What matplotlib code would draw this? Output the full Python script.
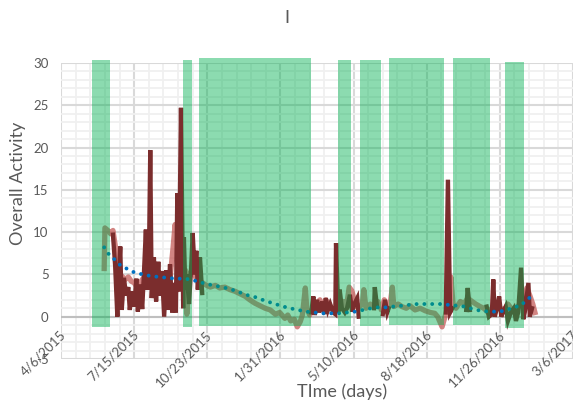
import numpy as np
import pandas as pd
import matplotlib
matplotlib.use("Agg")
import matplotlib.pyplot as plt
from matplotlib.ticker import MultipleLocator
from matplotlib.transforms import offset_copy

plt.rcParams["font.family"] = ["Lato", "DejaVu Sans"]
plt.rcParams["axes.unicode_minus"] = False

START = pd.Timestamp("2015-04-06")   # day 0 of the time axis

# raw activity (dark red), NaN = no data
raw_day = [71, 74, 77, 78, 81, 83, 86, 89, 92, 94, 97, 100, 103, 105, 108, 111, 113,
           116, 118, 120, 122, 124, 127, 130, 133, 135, 138, 141, 144, 146, 149, 152,
           155, 157, 159, 161, 164, 167, 168, 170, 172, 175, 178, 180, 183, 185, 187,
           190, 193, 200,
           342, 345, 347, 350, 353, 357, 360, 362, 365, 368, 372, 375, 376, 379, 381,
           384, 388, 391, 395, 398, 401, 405, 407, 415,
           428, 429, 432, 436, 440, 443, 446, 448, 470,
           526, 529, 532, 535, 545, 554, 556, 559, 570,
           582, 585, 589, 591, 593, 596, 599, 602, 604, 608, 611, 615, 619, 622, 625,
           629, 632, 634, 639, 641, 644]
raw_val = [9.7, 6.0, 0.0, 3.0, 8.3, 0.8, 4.6, 2.5, 3.5, 0.8, 3.0, 1.2, 4.5, 0.6, 3.8, 0.9, 4.5,
           10.3, 3.2, 5.5, 19.7, 2.2, 7.0, 1.8, 6.5, 2.5, 5.4, 0.0, 5.5, 0.8, 6.2, 0.5,
           4.0, 0.5, 14.6, 3.0, 24.7, 1.0, 9.4, 3.2, 5.0, 1.5, 6.0, 9.9, 5.0, 7.8, 3.2,
           7.0, 2.8, np.nan,
           0.5, 2.4, 0.2, 2.0, 0.5, 1.8, 0.3, 2.2, 0.8, 1.5, 0.5, 0.3, 8.7, 0.5, 3.2,
           1.0, 0.5, 1.0, 2.6, 0.6, 1.5, 2.2, 0.0, np.nan,
           1.0, 3.5, 1.2, np.nan, 0.3, 2.0, 0.5, 1.0, np.nan,
           0.5, 16.2, 0.5, 1.0, np.nan, 0.8, 3.4, 0.8, np.nan,
           1.2, 0.0, 0.3, 4.4, 0.0, 1.0, 2.4, 0.0, 0.5, 1.2, -0.5, 0.5, 1.0, -0.5, 0.5,
           5.8, -0.3, 0.5, 4.0, 0.0, 1.0]

# smoothed activity (light red)
smooth_day = [59, 60, 64, 68, 71, 74, 77, 79, 83, 88, 92, 96, 100, 104, 108, 112, 116,
              122, 129, 135, 142, 149, 153, 156, 159, 160, 163, 167, 170, 172, 175, 179,
              183, 187, 190, 197, 204, 211, 217, 224, 231, 238, 245, 252, 258, 265, 272,
              279, 286, 293, 299, 306, 310, 314, 319, 323, 327, 330, 334, 336, 340, 345,
              349, 354, 358, 362, 368, 373, 377, 381, 386, 390, 394, 398, 402, 406, 412,
              414, 417, 423, 428, 433, 438, 442, 446, 450, 453, 455, 461, 466, 472, 477,
              484, 491, 498, 505, 511, 515, 521, 525, 531, 533, 536, 540, 546, 551, 556,
              562, 567, 573, 578, 584, 589, 595, 600, 606, 611, 617, 622, 628, 633, 637,
              641, 645, 648]
smooth_val = [5.7, 10.5, 10.2, 9.8, 10.2, 8.5, 6.0, 5.0, 4.8, 4.4, 4.7, 4.2, 4.0, 3.5, 4.0, 4.5, 3.8,
              4.2, 4.0, 3.8, 4.0, 4.5, 8.0, 10.9, 6.0, 3.2, 4.5, 5.0, 5.5, 0.3, 5.0, 5.5,
              4.8, 4.3, 4.2, 3.8, 3.5, 3.7, 3.4, 3.5, 3.2, 3.0, 2.7, 2.4, 2.0, 1.6, 1.3,
              1.0, 0.8, 0.3, 0.5, -0.2, 0.2, -0.5, -0.3, -1.2, -0.6, 0.2, 3.4, 1.0, 0.2, 1.0,
              1.5, 2.0, 1.0, 2.0, 1.2, 0.8, 1.0, 1.5, 1.8, 1.0, 3.5, 3.0, 1.5, 1.0, 1.5,
              3.2, 1.0, 1.5, 1.2, 1.8, 0.8, 2.0, 1.0, 1.5, 3.5, 1.2, 1.5, 1.2, 1.0, 1.3,
              0.8, 1.0, 0.7, 0.5, 0.4, 0.0, -1.2, 0.0, 2.0, 4.7, 1.5, 1.0, 1.8, 1.5, 2.2,
              1.8, 1.5, 1.2, 1.0, 0.5, 1.0, 1.5, 1.0, 0.8, 1.5, 0.8, 1.0, 1.5, 1.0, 3.4,
              2.5, 1.5, 0.5]

# trendline (blue dotted)
trend_day = [59, 66, 74, 82, 92, 101, 112, 123, 134, 145, 156, 167, 178, 189, 198, 208,
             220, 230, 241, 252, 263, 272, 282, 293, 304, 313, 324, 335, 346, 358, 369,
             380, 391, 402, 413, 424, 433, 444, 454, 466, 476, 487, 498, 509, 520, 530,
             541, 552, 563, 574, 585, 596, 607, 618, 628, 636, 644]
trend_val = [8.2, 7.3, 6.7, 6.0, 5.6, 5.2, 5.0, 4.8, 4.7, 4.6, 4.5, 4.5, 4.4, 4.1, 3.9, 3.7,
             3.5, 3.3, 3.0, 2.6, 2.4, 2.1, 1.8, 1.5, 1.2, 1.0, 0.8, 0.6, 0.5, 0.4, 0.4,
             0.4, 0.5, 0.6, 0.8, 1.0, 1.1, 1.1, 1.2, 1.3, 1.4, 1.5, 1.5, 1.5, 1.5, 1.4,
             1.3, 1.2, 0.9, 0.7, 0.6, 0.6, 0.7, 1.1, 1.3, 1.9, 2.5]

# shaded periods (green)
band_start = [42, 167, 189, 379, 409, 449, 536, 607]
band_end = [67, 179, 342, 397, 438, 524, 587, 633]
band_top = [30.3, 30.4, 30.6, 30.4, 30.3, 30.6, 30.6, 30.1]
band_bottom = [-1.2, -1.2, -1.1, -1.1, -1.1, -1.0, -1.0, -1.3]

# date ticks every 100 days
tick_days = [0, 100, 200, 300, 400, 500, 600, 700]

fig = plt.figure(figsize=(5.73, 4.04), dpi=100)
ax = fig.add_axes([0.1065, 0.1114, 0.8935, 0.7327])

ax.plot(smooth_day, smooth_val, color="#c0504d", alpha=0.7, lw=3.8,
        solid_joinstyle="round", zorder=3)
ax.plot(raw_day, raw_val, color="#7b2d2d", lw=3.1, solid_joinstyle="miter", zorder=4)
ax.plot(trend_day, trend_val, color="#0070c0", lw=2.8, linestyle=(0, (0.01, 2.0)),
        dash_capstyle="round", zorder=5)

for s, e, t, b in zip(band_start, band_end, band_top, band_bottom):
    ax.fill_between([s, e], b, t, color="#00b050", alpha=0.45, lw=0,
                    clip_on=False, zorder=6)

ax.axhline(0, color="#bfbfbf", lw=1.5, zorder=1)

ax.set_xlim(0, 700)
ax.set_ylim(-5, 30)
ax.set_xticks(tick_days)
ax.xaxis.set_minor_locator(MultipleLocator(20))
ax.yaxis.set_major_locator(MultipleLocator(5))
ax.yaxis.set_minor_locator(MultipleLocator(1))

ax.grid(True, which="major", color="#d9d9d9", lw=1.5, zorder=0)
ax.grid(True, which="minor", color="#f0f0f0", lw=1.3, zorder=0)
ax.set_axisbelow(True)
for sp in ax.spines.values():
    sp.set_visible(False)

ax.tick_params(axis="both", which="both", length=0, colors="#595959", labelsize=9.5)
ax.tick_params(axis="y", pad=9)
ax.tick_params(axis="x", labelbottom=False)

# date labels sit over the bottom of the plot, as in the original
lab_tr = offset_copy(ax.transData, fig=fig, x=2, y=19, units="points")
for d in tick_days:
    t = START + pd.Timedelta(days=d)
    ax.text(d, -5, f"{t.month}/{t.day}/{t.year}", transform=lab_tr, rotation=45,
            ha="right", va="center", rotation_mode="anchor", fontsize=9.5,
            color="#595959", clip_on=False, zorder=10)

fig.text(0.5, 0.955, "I", ha="center", va="center", fontsize=13, color="#595959")
fig.text(0.597, 0.01, "TIme (days)", ha="center", va="bottom", fontsize=13, color="#595959")
fig.text(0.031, 0.547, "Overall Activity", ha="center", va="center", rotation=90,
         fontsize=13, color="#595959")

fig.savefig("out.png", dpi=100)
